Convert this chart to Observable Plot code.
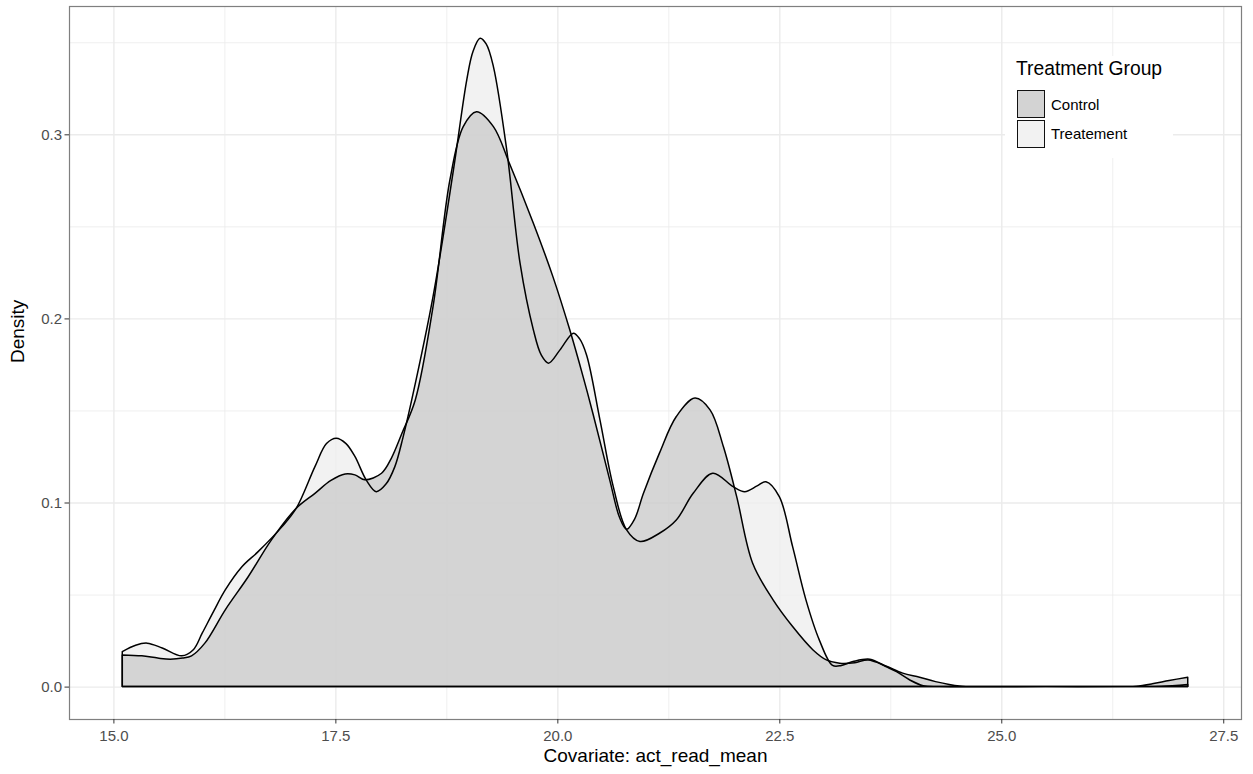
<!DOCTYPE html>
<html>
<head>
<meta charset="utf-8">
<script src="https://cdn.jsdelivr.net/npm/d3@7"></script>
<script src="https://cdn.jsdelivr.net/npm/@observablehq/plot@0.6"></script>
<style>
  html, body { margin: 0; padding: 0; background: #fff; }
  #chart { position: relative; width: 1253px; height: 774px; font-family: "Liberation Sans", Arial, sans-serif; }
  #legend { position: absolute; left: 1005px; top: 56px; width: 168px; height: 102px; background: #fff; }
  #legend .title { position: absolute; left: 11px; top: 2px; font-size: 19.3px; color: #000; white-space: nowrap; }
  #legend .row { position: absolute; left: 12px; height: 28px; display: flex; align-items: center; }
  #legend .key { width: 26px; height: 26px; border: 1.5px solid #111; box-sizing: content-box; }
  #legend .lab { margin-left: 6px; font-size: 15px; color: #000; white-space: nowrap; }
</style>
</head>
<body>
<div id="chart"></div>
<script>
// Kernel density estimates of act_read_mean, one curve per treatment group
const groups = ["Control", "Treatement"];
const groupFills = ["#cccccc", "#efefef"];

const controlX = [15.1, 15.32, 15.5, 15.64, 15.78, 15.88, 16.03, 16.26, 16.52, 16.78, 17.06, 17.27, 17.45, 17.61, 17.72, 17.83, 18.02, 18.13, 18.25, 18.4, 18.6, 18.79, 18.94, 19.09, 19.28, 19.46, 19.73, 19.95, 20.14, 20.29, 20.4, 20.59, 20.7, 20.78, 20.87, 20.97, 21.15, 21.34, 21.55, 21.72, 21.87, 22.02, 22.2, 22.43, 22.65, 22.88, 23.03, 23.18, 23.35, 23.5, 23.7, 23.89, 24.08, 24.26, 24.53, 24.8, 25.5, 26.4, 26.52, 26.7, 26.89, 27.1];
const controlY = [0.0172, 0.0167, 0.0155, 0.0149, 0.0155, 0.0167, 0.0236, 0.0417, 0.0598, 0.0797, 0.0969, 0.105, 0.112, 0.1155, 0.115, 0.1123, 0.1159, 0.124, 0.1376, 0.1557, 0.2064, 0.2752, 0.3042, 0.3123, 0.3042, 0.2843, 0.2517, 0.2227, 0.1938, 0.1684, 0.1485, 0.1123, 0.092, 0.0855, 0.091, 0.105, 0.1268, 0.1467, 0.1567, 0.1503, 0.1304, 0.1032, 0.067, 0.0471, 0.0326, 0.0199, 0.0145, 0.0127, 0.013, 0.0145, 0.0112, 0.0073, 0.0051, 0.0027, 0.0003, 0, 0, 0, 0.0002, 0.0015, 0.0033, 0.0051];

const treatX = [15.1, 15.25, 15.38, 15.55, 15.77, 15.9, 16.0, 16.13, 16.26, 16.45, 16.63, 16.9, 17.06, 17.27, 17.4, 17.51, 17.62, 17.72, 17.85, 17.96, 18.07, 18.17, 18.26, 18.36, 18.6, 18.83, 18.98, 19.05, 19.13, 19.2, 19.28, 19.43, 19.58, 19.73, 19.82, 19.9, 20.03, 20.18, 20.25, 20.33, 20.48, 20.63, 20.78, 20.93, 21.15, 21.34, 21.53, 21.75, 21.98, 22.11, 22.25, 22.35, 22.5, 22.65, 22.8, 22.95, 23.1, 23.2, 23.33, 23.52, 23.7, 23.82, 23.97, 24.12, 24.3, 25.5, 26.5, 26.8, 27.1];
const treatY = [0.019, 0.0225, 0.0236, 0.021, 0.0167, 0.02, 0.029, 0.041, 0.0525, 0.0652, 0.0733, 0.0869, 0.0969, 0.1195, 0.132, 0.1349, 0.132, 0.125, 0.112, 0.1059, 0.11, 0.1195, 0.135, 0.1557, 0.2118, 0.2807, 0.3296, 0.345, 0.3522, 0.349, 0.3368, 0.2915, 0.23, 0.1938, 0.18, 0.1757, 0.1829, 0.192, 0.189, 0.18, 0.1449, 0.1086, 0.0851, 0.0788, 0.0833, 0.0905, 0.105, 0.1159, 0.1086, 0.1059, 0.109, 0.1113, 0.1032, 0.076, 0.0471, 0.0254, 0.0115, 0.0115, 0.0136, 0.0149, 0.0109, 0.0081, 0.0036, 0.0005, 0, 0, 0, 0.0002, 0.0012];

// Axis ticks and grid positions
const xTicks = [15.0, 17.5, 20.0, 22.5, 25.0, 27.5];
const xMinor = [16.25, 18.75, 21.25, 23.75, 26.25];
const yTicks = [0.0, 0.1, 0.2, 0.3];
const yMinor = [0.05, 0.15, 0.25, 0.35];

const xTitle = "Covariate: act_read_mean";
const yTitle = "Density";
const legendTitle = "Treatment Group";

const toRows = (xs, ys, g) => xs.map((x, i) => ({x, y: ys[i], group: g}));
const control = toRows(controlX, controlY, groups[0]);
const treat = toRows(treatX, treatY, groups[1]);

const areaOpts = {x: "x", y: "y", curve: "catmull-rom"};
const outline = {...areaOpts, fill: "none", stroke: "#000", strokeWidth: 1.5, strokeLinejoin: "round"};

const chart = Plot.plot({
  width: 1253,
  height: 774,
  marginLeft: 69,
  marginRight: 12,
  marginTop: 6,
  marginBottom: 55,
  style: {fontFamily: "'Liberation Sans', Arial, sans-serif", background: "#fff"},
  x: {domain: [14.5, 27.7]},
  y: {domain: [-0.0176, 0.3697]},
  marks: [
    Plot.gridX(xMinor, {stroke: "#ebebeb", strokeOpacity: 1, strokeWidth: 0.8}),
    Plot.gridY(yMinor, {stroke: "#ebebeb", strokeOpacity: 1, strokeWidth: 0.8}),
    Plot.gridX(xTicks, {stroke: "#ebebeb", strokeOpacity: 1, strokeWidth: 1.4}),
    Plot.gridY(yTicks, {stroke: "#ebebeb", strokeOpacity: 1, strokeWidth: 1.4}),
    // translucent fills first, outlines of both groups on top
    Plot.areaY(treat, {...areaOpts, fill: groupFills[1], fillOpacity: 0.8}),
    Plot.areaY(control, {...areaOpts, fill: groupFills[0], fillOpacity: 0.8}),
    Plot.areaY(treat, outline),
    Plot.areaY(control, outline),
    Plot.frame({stroke: "#7f7f7f", strokeWidth: 1.2}),
    Plot.axisX({ticks: xTicks, tickFormat: d3.format(".1f"), tickSize: 4.5, tickPadding: 6, fontSize: 15, color: "#4d4d4d", stroke: "#333", label: null}),
    Plot.axisY({ticks: yTicks, tickFormat: d3.format(".1f"), tickSize: 4.5, tickPadding: 3, fontSize: 15, color: "#4d4d4d", stroke: "#333", label: null}),
    Plot.text([xTitle], {frameAnchor: "bottom", dy: 42, fontSize: 19, fill: "#000"}),
    Plot.text([yTitle], {frameAnchor: "left", dx: -52, rotate: -90, fontSize: 19, fill: "#000"})
  ]
});

const host = document.getElementById("chart");
host.appendChild(chart);

// Legend drawn over the panel's upper right corner
const legend = document.createElement("div");
legend.id = "legend";
legend.innerHTML = `<div class="title">${legendTitle}</div>` +
  groups.map((g, i) => `<div class="row" style="top:${34 + i * 29.5}px"><div class="key" style="background:${i === 0 ? "#d3d3d3" : "#f2f2f2"}"></div><div class="lab">${g}</div></div>`).join("");
host.appendChild(legend);
</script>
</body>
</html>
